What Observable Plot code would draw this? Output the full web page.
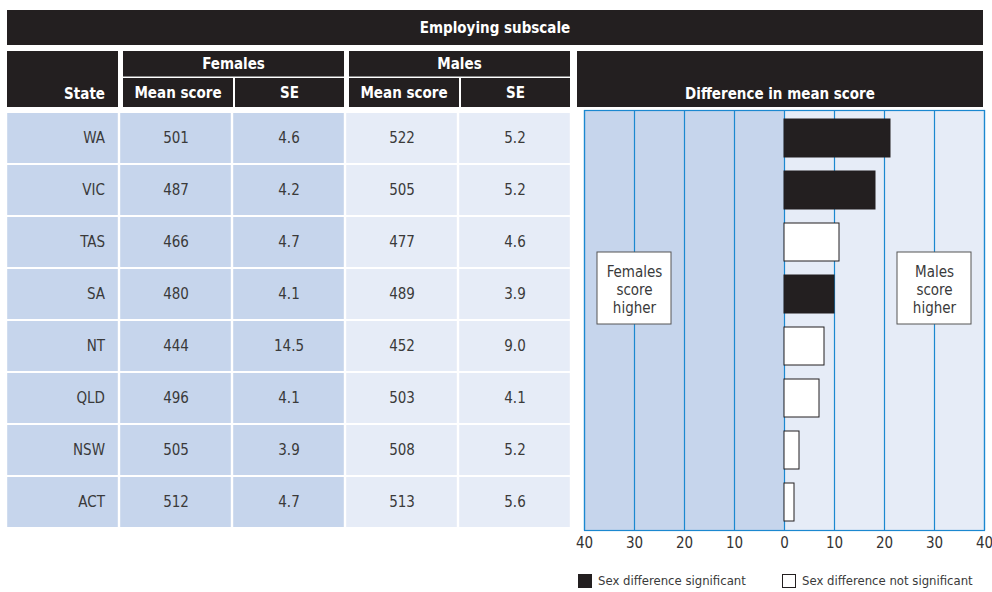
<!DOCTYPE html>
<html><head><meta charset="utf-8">
<script src="https://cdn.jsdelivr.net/npm/d3@7"></script>
<script src="https://cdn.jsdelivr.net/npm/@observablehq/plot@0.6"></script>
<style>
body{margin:0;background:#fff;font-family:"Liberation Sans Narrow","DejaVu Sans Condensed","Liberation Sans",sans-serif;}
#root{position:relative;width:992px;height:592px;overflow:hidden;}
.blk{position:absolute;background:#231f20;color:#fff;font-weight:bold;font-size:15px;display:flex;box-sizing:border-box;}
.c{justify-content:center;align-items:center;}
.b{align-items:flex-end;padding-bottom:4px;}
.pl{position:absolute;}
.leg{position:absolute;top:573px;font-size:13px;color:#3a3a3a;display:flex;align-items:center;}
.sw{width:14px;height:14px;box-sizing:border-box;border:1px solid #231f20;margin-right:6px;}
</style></head>
<body><div id="root">
<div class="blk c" style="left:7px;top:10px;width:976px;height:35px;">Employing subscale</div>
<div class="blk b" style="left:7px;top:51px;width:111px;height:56px;justify-content:flex-end;padding-right:13px;">State</div>
<div class="blk c" style="left:123px;top:51px;width:221px;height:26px;border-bottom:1px solid #888;">Females</div>
<div class="blk c" style="left:123px;top:78px;width:110px;height:29px;">Mean score</div>
<div class="blk c" style="left:235px;top:78px;width:109px;height:29px;">SE</div>
<div class="blk c" style="left:349px;top:51px;width:221px;height:26px;border-bottom:1px solid #888;">Males</div>
<div class="blk c" style="left:349px;top:78px;width:110px;height:29px;">Mean score</div>
<div class="blk c" style="left:461px;top:78px;width:109px;height:29px;">SE</div>
<div class="blk b" style="left:577px;top:51px;width:406px;height:56px;justify-content:center;">Difference in mean score</div>
<div id="table" class="pl" style="left:0;top:108px;"></div>
<div id="chart" class="pl" style="left:577px;top:108px;"></div>
<div class="leg" style="left:578px;"><div class="sw" style="background:#231f20"></div>Sex difference significant</div>
<div class="leg" style="left:782px;"><div class="sw" style="background:#fff"></div>Sex difference not significant</div>
</div>
<script>
const states = ["WA","VIC","TAS","SA","NT","QLD","NSW","ACT"];
const femaleMean = [501,487,466,480,444,496,505,512];
const femaleSE = [4.6,4.2,4.7,4.1,14.5,4.1,3.9,4.7];
const maleMean = [522,505,477,489,452,503,508,513];
const maleSE = [5.2,5.2,4.6,3.9,9.0,4.1,5.2,5.6];
const difference = [21.2,18.2,11,10,8,7,3,2];
const significant = [true,true,false,true,false,false,false,false];
const ticks = [-40,-30,-20,-10,0,10,20,30,40];

const FONT = '"Liberation Sans Narrow","DejaVu Sans Condensed","Liberation Sans",sans-serif';
const DARK = "#231f20", BLUE1 = "#c6d5ec", BLUE2 = "#e6ecf7", GRID = "#1b88d0", TXT = "#3a3a3a";

const columns = ["State","FM","FSE","MM","MSE"];
const cells = [];
states.forEach((s,i)=>{
  cells.push({col:"State",state:s,label:s});
  cells.push({col:"FM",state:s,label:String(femaleMean[i])});
  cells.push({col:"FSE",state:s,label:femaleSE[i].toFixed(1)});
  cells.push({col:"MM",state:s,label:String(maleMean[i])});
  cells.push({col:"MSE",state:s,label:maleSE[i].toFixed(1)});
});
const fillFor = c => (c==="MM"||c==="MSE") ? BLUE2 : BLUE1;

const table = Plot.plot({
  width:577, height:424, marginTop:2, marginBottom:2, marginLeft:6, marginRight:6,
  style:{fontFamily:FONT, fontSize:"15px", background:"transparent"},
  x:{domain:columns, axis:null, padding:0},
  y:{domain:states, axis:null, padding:0},
  marks:[
    Plot.cell(cells,{x:"col",y:"state",fill:d=>fillFor(d.col),insetTop:1,insetBottom:1,insetLeft:1.2,insetRight:1.2}),
    Plot.text(cells.filter(d=>d.col!=="State"),{x:"col",y:"state",text:"label",fill:TXT,fontSize:15}),
    Plot.text(cells.filter(d=>d.col==="State"),{x:"col",y:"state",text:"label",fill:TXT,fontSize:15,textAnchor:"end",dx:42})
  ]
});
document.getElementById("table").appendChild(table);

const bars = states.map((s,i)=>({state:s,diff:difference[i],sig:significant[i]}));
const notes = [
  {x:-30,label:"Females\nscore\nhigher"},
  {x:30,label:"Males\nscore\nhigher"}
];
const chart = Plot.plot({
  width:415, height:452, marginTop:2, marginBottom:30, marginLeft:7, marginRight:8,
  style:{fontFamily:FONT, fontSize:"15px", color:"#333", background:"transparent", overflow:"visible"},
  x:{domain:[-40,40], ticks:ticks, tickFormat:d=>Math.abs(d), tickSize:0, tickPadding:7, label:null},
  y:{domain:states, axis:null, padding:0},
  marks:[
    Plot.rectX([{a:-40,b:0}],{x1:"a",x2:"b",fill:BLUE1}),
    Plot.rectX([{a:0,b:40}],{x1:"a",x2:"b",fill:BLUE2}),
    Plot.ruleX(ticks,{stroke:GRID,strokeWidth:1.2}),
    Plot.frame({stroke:GRID,strokeWidth:1.2}),
    Plot.barX(bars,{x1:0,x2:"diff",y:"state",fill:d=>d.sig?DARK:"#fff",stroke:DARK,strokeWidth:1,insetTop:7,insetBottom:7}),
    Plot.barX(notes,{x1:d=>d.x-7.4,x2:d=>d.x+7.4,y:()=>"SA",fill:"#fff",stroke:"#555",strokeWidth:1,insetTop:-16,insetBottom:-4}),
    Plot.text(notes,{x:"x",y:()=>"SA",text:"label",fill:TXT,fontSize:15,lineHeight:1.2,dy:-5}),
    Plot.axisX({ticks:ticks, tickFormat:d=>Math.abs(d), tickSize:0, tickPadding:7, fontSize:15, label:null})
  ]
});
document.getElementById("chart").appendChild(chart);
</script>
</body></html>
